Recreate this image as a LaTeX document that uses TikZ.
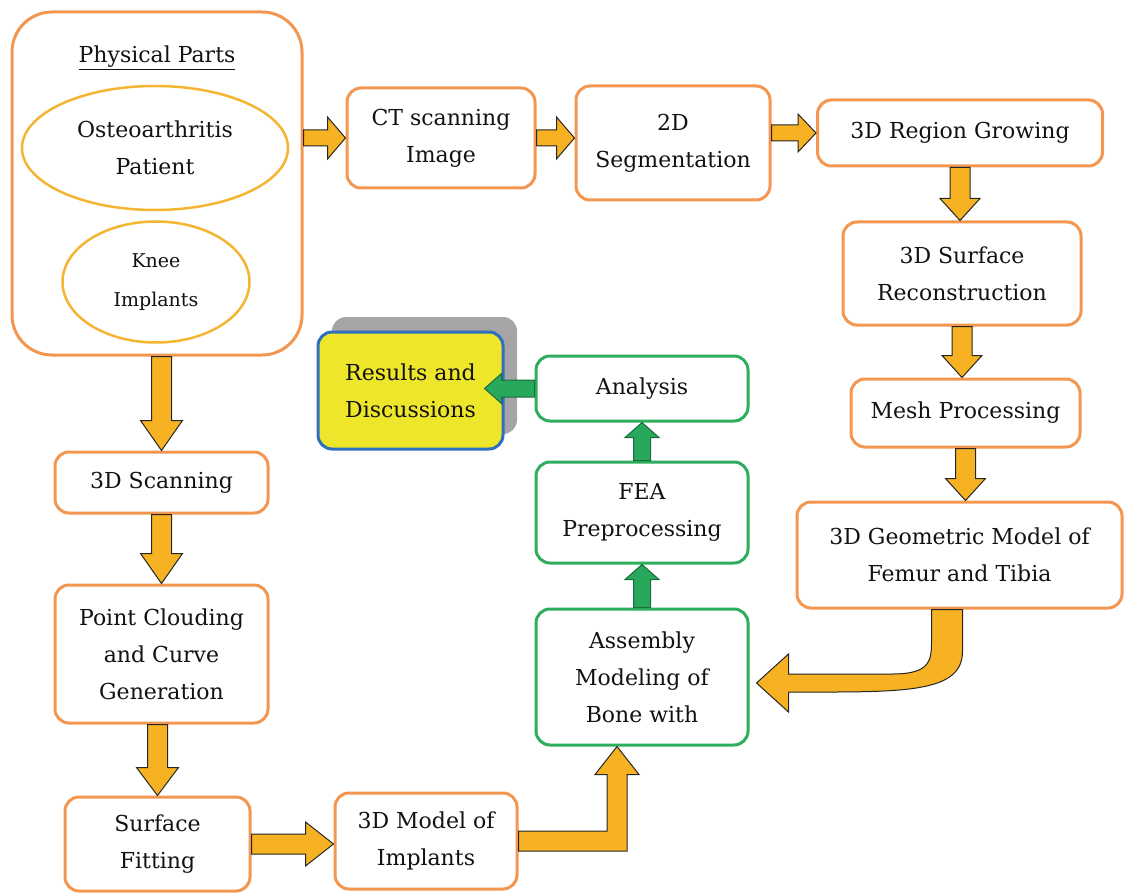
\documentclass[tikz,border=0pt]{standalone}
\usepackage{fontspec}
\setmainfont{DejaVu Serif}
\usetikzlibrary{shapes.geometric,shadows,calc}

\definecolor{boxorange}{HTML}{F29650}
\definecolor{ellgold}{HTML}{F4B532}
\definecolor{arrgold}{HTML}{F6B222}
\definecolor{boxgreen}{HTML}{2EAD5C}
\definecolor{arrgreen}{HTML}{27A85A}
\definecolor{arrgreenline}{HTML}{1C6B3A}
\definecolor{resfill}{HTML}{EEE62A}
\definecolor{resblue}{HTML}{2E70C0}
\definecolor{shadowgray}{HTML}{A5A5A5}
\definecolor{textdark}{HTML}{121212}

% block arrows: [style]{tail}{tip}{shaft half width}{head half width}{head length}
\newcommand{\harr}[6][blockarr]{%
  \filldraw[#1] let \p1=(#2), \p2=(#3), \n1={(\x2-\x1)/abs(\x2-\x1)} in
    (\x1,\y1+#4pt) -- (\x2-\n1*#6pt,\y1+#4pt) -- (\x2-\n1*#6pt,\y1+#5pt) -- (\x2,\y1)
    -- (\x2-\n1*#6pt,\y1-#5pt) -- (\x2-\n1*#6pt,\y1-#4pt) -- (\x1,\y1-#4pt) -- cycle;}
\newcommand{\varr}[6][blockarr]{%
  \filldraw[#1] let \p1=(#2), \p2=(#3), \n1={(\y2-\y1)/abs(\y2-\y1)} in
    (\x1+#4pt,\y1) -- (\x1+#4pt,\y2-\n1*#6pt) -- (\x1+#5pt,\y2-\n1*#6pt) -- (\x1,\y2)
    -- (\x1-#5pt,\y2-\n1*#6pt) -- (\x1-#4pt,\y2-\n1*#6pt) -- (\x1-#4pt,\y1) -- cycle;}

\begin{document}
\begin{tikzpicture}[x=1pt,y=-1pt]

    \tikzset{
      obox/.style={
        draw=boxorange,
        line width=3pt,
        rounded corners=14pt,
        fill=white,
        align=center,
        text=textdark,
        font=\fontsize{22}{37}\selectfont,
      },
      gbox/.style={obox, draw=boxgreen},
      gell/.style={ellipse, draw=ellgold, line width=2.5pt, align=center, text=textdark},
      blockarr/.style={fill=arrgold, draw=black!85, line width=1pt},
      greenarr/.style={fill=arrgreen, draw=arrgreenline, line width=1pt},
    }
    \useasboundingbox (0,0) rectangle (1124,893);

    % physical parts
    \node[obox, rounded corners=40pt, minimum width=290pt, minimum height=343pt] (phys) at (157,183.5) {};
    \node[text=textdark, font=\fontsize{22}{37}\selectfont] (title) at (157,58) {\underline{Physical Parts}};
    \node[gell, minimum width=266pt, minimum height=124pt, font=\fontsize{22}{37}\selectfont] (patient) at (155,148) {Osteoarthritis\\Patient};
    \node[gell, minimum width=187pt, minimum height=121pt, font=\fontsize{19}{39}\selectfont] (implant) at (156,282) {Knee\\Implants};

    % top row and right column
    \node[obox, minimum width=188pt, minimum height=100pt] (ctscan) at (441,138) {CT scanning\\Image};
    \node[obox, minimum width=194pt, minimum height=114pt] (seg2d) at (673,143) {2D\\Segmentation};
    \node[obox, minimum width=285pt, minimum height=66pt] (region) at (960,133) {3D Region Growing};
    \node[obox, minimum width=238pt, minimum height=103pt] (surface) at (962,273.5) {3D Surface\\Reconstruction};
    \node[obox, minimum width=229pt, minimum height=68pt] (mesh) at (965.5,413) {Mesh Processing};
    \node[obox, minimum width=325pt, minimum height=106pt] (geom) at (959.5,555) {3D Geometric Model of\\Femur and Tibia};

    % left column
    \node[obox, minimum width=213pt, minimum height=61pt] (scan3d) at (161.5,482.5) {3D Scanning};
    \node[obox, minimum width=213pt, minimum height=138pt] (cloud) at (161.5,654) {Point Clouding\\and Curve\\Generation};
    \node[obox, minimum width=185pt, minimum height=94pt] (fitting) at (157.5,844) {Surface\\Fitting};
    \node[obox, minimum width=182pt, minimum height=96pt] (model) at (426,841) {3D Model of\\Implants};

    % green column and results
    \node[gbox, minimum width=212pt, minimum height=136pt] (assembly) at (642,677) {Assembly\\Modeling of\\Bone with};
    \node[gbox, minimum width=212pt, minimum height=101pt] (fea) at (642,512.5) {FEA\\Preprocessing};
    \node[gbox, minimum width=212pt, minimum height=65pt] (analysis) at (642,388.5) {Analysis};
    \node[obox, draw=resblue, fill=resfill, minimum width=185pt, minimum height=117pt,
      drop shadow={shadow xshift=14pt, shadow yshift=15pt, fill=shadowgray, opacity=1}] (results) at (410.5,390.5) {Results and\\Discussions};

    % arrows
    \harr{phys.east|-ctscan.west}{ctscan.west}{8}{21}{18}
    \harr{ctscan.east}{seg2d.west|-ctscan.east}{8}{21}{18}
    \harr{seg2d.east|-region.west}{region.west}{8}{19}{18}
    \varr{region.south}{surface.north-|region.south}{10}{20}{22}
    \varr{surface.south}{mesh.north-|surface.south}{10}{20}{22}
    \varr{mesh.south}{geom.north-|mesh.south}{10}{20}{22}
    \varr{scan3d.north|-phys.south}{scan3d.north}{10}{21}{30}
    \varr{scan3d.south}{cloud.north}{10}{21}{30}
    \varr{fitting.north|-cloud.south}{fitting.north}{10}{21}{28}
    \harr{fitting.east}{model.west|-fitting.east}{10}{22}{28}
    \filldraw[blockarr] let \p1=(model.east), \p2=(assembly.south) in
      (\x1,\y1+10pt) -- (\x2-35pt,\y1+10pt) -- (\x2-35pt,\y2-28pt) -- (\x2-47pt,\y2-28pt)
      -- (\x2-25pt,\y2) -- (\x2-3pt,\y2-28pt) -- (\x2-15pt,\y2-28pt) -- (\x2-15pt,\y1-10pt)
      -- (\x1,\y1-10pt) -- cycle;
    \filldraw[blockarr] let \p1=(geom.south), \p2=(assembly.east) in
      (\x1+3pt,\y1) -- (\x1+3pt,\y1-42pt) .. controls (\x1+3pt,\y1-85pt) and (\x1-60pt,\y2-15pt) .. (\x2+39pt,\y2-15pt)
      -- (\x2+39pt,\y2-35pt) -- (\x2+7pt,\y2-6pt) -- (\x2+39pt,\y2+23pt) -- (\x2+39pt,\y2+3pt)
      -- (\x1-67pt,\y2+3pt) .. controls (\x1-28pt,\y2+3pt) and (\x1-28pt,\y1-50pt) .. (\x1-28pt,\y1-30pt)
      -- (\x1-28pt,\y1) -- cycle;
    \varr[greenarr]{assembly.north}{fea.south}{8.5}{17}{15}
    \varr[greenarr]{fea.north}{analysis.south}{8.5}{17}{15}
    \harr[greenarr]{analysis.west}{$(results.east|-analysis.west)+(-20,0)$}{8.5}{15}{17}

\end{tikzpicture}
\end{document}
